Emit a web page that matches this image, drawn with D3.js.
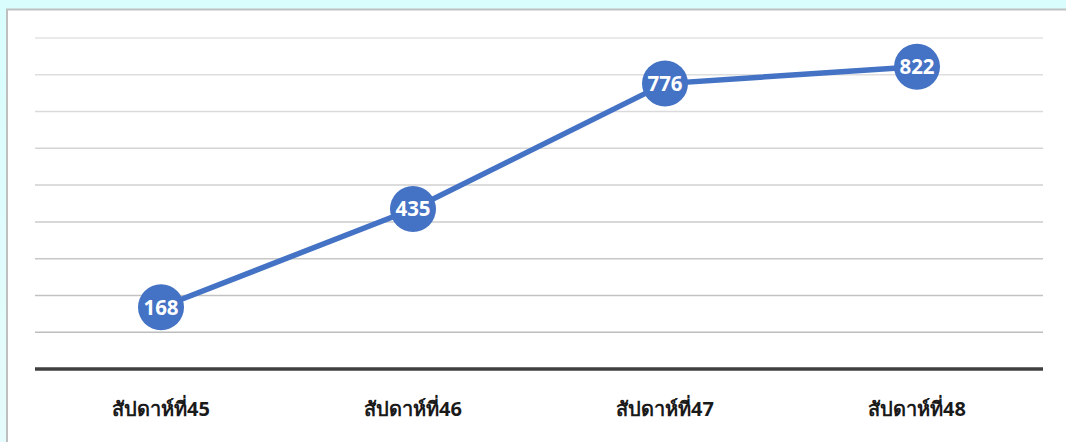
<!DOCTYPE html>
<html>
<head>
	<meta charset="utf-8">
	<script src="https://cdn.jsdelivr.net/npm/d3@7"></script>
	<style>
		body { margin: 0; background: linear-gradient(#d9fdfd, #e6fbfb); }
		svg { display: block; font-family: "Noto Sans", "Noto Sans CJK SC", sans-serif; }
	</style>
</head>
<body>
	<svg id="chart" width="1066" height="442"></svg>
	<script>
		var weeks = ['สัปดาห์ที่45', 'สัปดาห์ที่46', 'สัปดาห์ที่47', 'สัปดาห์ที่48'];
		var cases = [168, 435, 776, 822];
		var gridTicks = [100, 200, 300, 400, 500, 600, 700, 800, 900];

		var svg = d3.select('#chart');
		var plotLeft = 35, plotRight = 1043, plotTop = 38, plotBottom = 369;

		// white panel
		svg.append('rect')
			.attr('x', 7).attr('y', 9.5)
			.attr('width', 1070).attr('height', 450)
			.attr('fill', '#fff')
			.attr('stroke', '#bfbfbf')
			.attr('stroke-width', 2);

		var x = d3.scaleBand().domain(weeks).range([plotLeft, plotRight]);
		var y = d3.scaleLinear().domain([0, 900]).range([plotBottom, plotTop]);

		var shade = d3.scaleLinear().domain([900, 100]).range(['#e3e3e3', '#bdbdbd']);

		svg.append('g')
			.selectAll('line')
			.data(gridTicks)
			.enter()
			.append('line')
			.attr('x1', plotLeft).attr('x2', plotRight)
			.attr('y1', d => y(d)).attr('y2', d => y(d))
			.attr('stroke', d => shade(d))
			.attr('stroke-width', 1.5);

		svg.append('line')
			.attr('x1', plotLeft).attr('x2', plotRight)
			.attr('y1', y(0)).attr('y2', y(0))
			.attr('stroke', '#404040')
			.attr('stroke-width', 3.5);

		svg.append('g')
			.selectAll('text')
			.data(weeks)
			.enter()
			.append('text')
			.attr('x', d => x(d) + x.bandwidth() / 2)
			.attr('y', 416)
			.attr('text-anchor', 'middle')
			.attr('font-size', 20)
			.attr('font-weight', 'bold')
			.attr('fill', '#1a1a1a')
			.text(d => d);

		var cx = (d, i) => x(weeks[i]) + x.bandwidth() / 2;

		var line = d3.line()
			.x((d, i) => cx(d, i))
			.y(d => y(d));

		svg.append('path')
			.datum(cases)
			.attr('d', line)
			.attr('fill', 'none')
			.attr('stroke', '#4472c4')
			.attr('stroke-width', 5.5)
			.attr('stroke-linecap', 'round');

		var pts = svg.append('g')
			.selectAll('g')
			.data(cases)
			.enter()
			.append('g')
			.attr('transform', (d, i) => 'translate(' + cx(d, i) + ',' + y(d) + ')');

		pts.append('circle')
			.attr('r', 23)
			.attr('fill', '#4472c4');

		pts.append('text')
			.attr('text-anchor', 'middle')
			.attr('dy', '0.36em')
			.attr('font-size', 20.5)
			.attr('font-weight', 'bold')
			.attr('fill', '#fff')
			.text(d => d);
	</script>
</body>
</html>
